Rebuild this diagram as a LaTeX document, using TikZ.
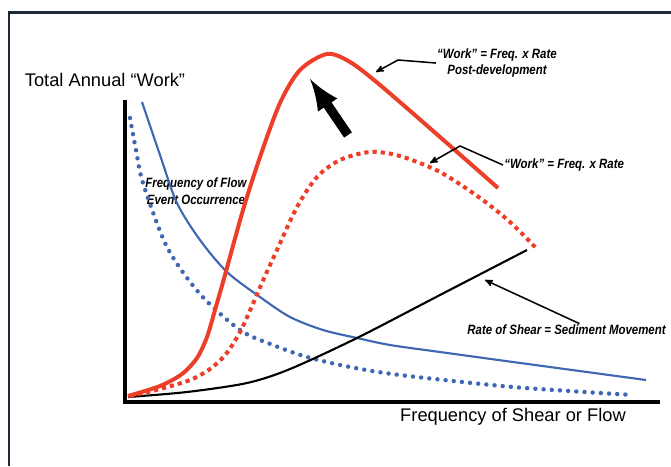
\documentclass[tikz,border=0pt]{standalone}
\usepackage{fontspec}
\setmainfont{Liberation Sans}
\newfontfamily\notefont[Ligatures=TeX,FakeStretch=0.85]{Liberation Sans}
\usetikzlibrary{arrows}

\definecolor{workred}{RGB}{236,62,40}
\definecolor{flowblue}{RGB}{62,102,178}
\definecolor{framegray}{RGB}{28,42,56}

\begin{document}
\begin{tikzpicture}[x=0.03cm,y=-0.03cm,>=stealth',
  axis/.style={line width=3.6pt},
  redcurve/.style={workred,line width=3.4pt},
  reddots/.style={workred,line width=3.4pt,dash pattern=on 3.6pt off 3.4pt},
  bluecurve/.style={flowblue,line width=1.8pt},
  bluedots/.style={flowblue,line width=3.8pt,line cap=round,dash pattern=on 0pt off 7pt},
  blackcurve/.style={line width=1.8pt},
  axis label/.style={font=\fontsize{15.6}{18}\selectfont,inner sep=1pt},
  note/.style={font=\notefont\fontsize{11.5}{14}\selectfont\bfseries\itshape,align=center,inner sep=1pt},
  leader/.style={->,line width=1.3pt}]

    \useasboundingbox (0,0) rectangle (671,466);

    % frame
    \draw[framegray,line width=1.8pt] (9,466) -- (9,12.5) -- (671,12.5);

    % labels
    \node[axis label] (ylab) at (105,80) {Total Annual ``Work''};
    \node[axis label] (xlab) at (513,417) {Frequency of Shear or Flow};
    \node[note] (freq) at (196,191) {Frequency of Flow\\Event Occurrence};

    % curves
    \draw[bluedots] plot[smooth] coordinates {(130,118) (136,150) (143,183) (167,247) (200,294) (240,330) (273,345) (307,357) (350,367) (400,375) (513,387) (633,395)};
    \draw[bluecurve] plot[smooth] coordinates {(142,102) (160,155) (177,203) (200,240) (227,272) (260,297) (290,317) (323,330) (357,338) (390,345) (440,352) (513,362) (646,380)};
    \draw[blackcurve] plot[smooth] coordinates {(128,397) (187,392) (247,383) (290,369) (357,338) (440,295) (527,250)};
    \draw[reddots] plot[smooth] coordinates {(130,396) (160,389) (190,380) (210,369) (226,354) (240,332) (252,306) (265,276) (277,250) (297,207) (317,177) (340,160) (370,152) (400,156) (440,172) (480,198) (510,222) (538,250)};
    \draw[redcurve] plot[smooth] coordinates {(128,396) (160,386) (182,374) (197,358) (207,337) (215,310) (225,275) (243,210) (260,157) (280,103) (300,70) (327,54) (350,62) (380,85) (440,137) (498,188)};

    % axes
    \coordinate (top) at (125,100);
    \coordinate (origin) at (125,402);
    \coordinate (right) at (660,402);
    \draw[axis] (top) -- (origin) -- (right);

    % big arrow
    \coordinate (bigtail) at (348,135);
    \coordinate (bighead) at (310,79);
    \draw[-latex,line width=8pt] (bigtail) -- (bighead);

    % annotations
    \node[note] (post) at (497,63) {``Work'' = Freq. x Rate\\Post-development};
    \node[note,anchor=west] (pre) at (503,165) {``Work'' = Freq. x Rate};
    \node[note,anchor=west] (rate) at (466,330) {Rate of Shear = Sediment Movement};

    \coordinate (posttip) at (376,72);
    \coordinate (pretip) at (430,163);
    \coordinate (ratetip) at (485,280);
    \draw[leader] (post.west) -- (398,60) -- (posttip);
    \draw[leader] (pre.west) -- (460,146) -- (pretip);
    \draw[leader] ([xshift=13*0.03cm]rate.north) -- (ratetip);
\end{tikzpicture}
\end{document}
